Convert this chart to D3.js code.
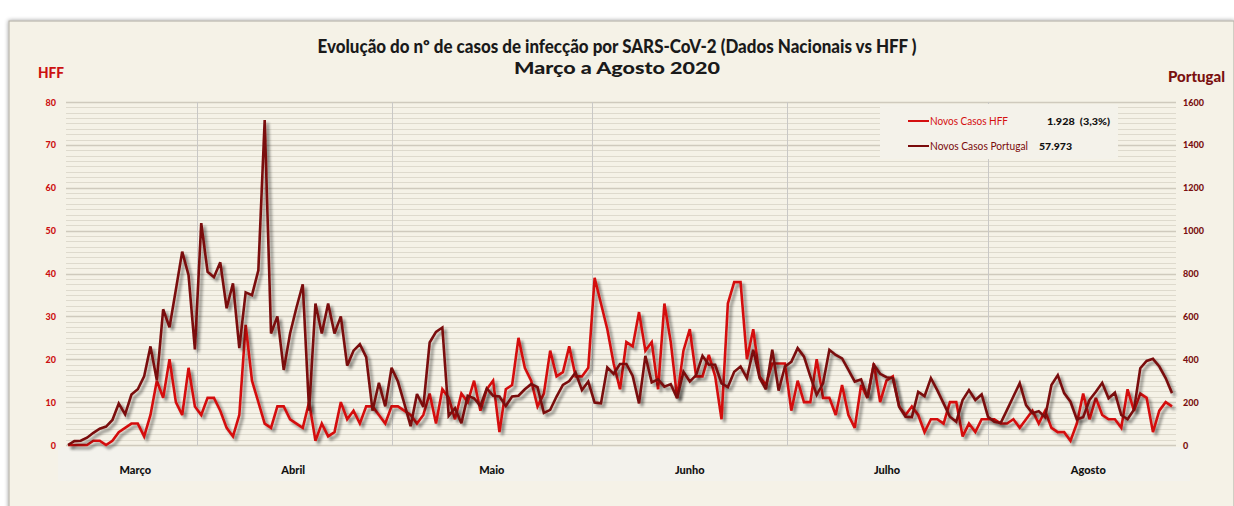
<!DOCTYPE html>
<html>
<head>
<meta charset="utf-8">
<script src="https://cdn.jsdelivr.net/npm/d3@7/dist/d3.min.js"></script>
<style>
  html, body { margin: 0; padding: 0; background: #ffffff; }
  svg { display: block; }
</style>
</head>
<body>
<svg id="chart" width="1234" height="506"></svg>
<script>
// ---------------- DATA ----------------
const titleLines = ["Evolução do nº de casos de infecção por SARS-CoV-2 (Dados Nacionais vs HFF )", "Março a Agosto 2020"];
const months = ["Março", "Abril", "Maio", "Junho", "Julho", "Agosto"];
// month label centres and month separators, in day-index units
const monthCentres = [10.6, 35.5, 66.8, 98, 129.1, 160.8];
const monthSeparators = [20.3, 51.1, 82.6, 113.3, 145];
const leftTicks = [0, 10, 20, 30, 40, 50, 60, 70, 80];
const rightTicks = [0, 200, 400, 600, 800, 1000, 1200, 1400, 1600];
const seriesNames = ["Novos Casos HFF", "Novos Casos Portugal"];
const seriesTotals = ["1.928  (3,3%)", "57.973"];

// daily new cases, HFF (left axis)
const hff = [0,0,0,0,1,1,0,1,3,4,5,5,2,7,15,11,20,10,7,18,9,7,11,11,8,4,2,7,28,15,
  10,5,4,9,9,6,5,4,10,1,5,2,3,10,6,8,5,9,9,7,5,9,9,8,7,5,7,12,5,13,
  11,6,12,10,15,8,13,15,3,13,14,25,18,15,9,12,22,16,17,23,16,16,18,39,33,27,19,13,24,23,
  31,22,24,13,33,24,11,22,27,16,16,21,16,6,33,38,38,20,27,16,14,19,19,19,8,15,10,10,20,11,
  11,7,14,7,4,14,11,19,10,15,16,9,7,9,7,3,6,6,5,10,10,2,5,3,6,6,6,5,5,6,
  4,6,8,5,8,4,3,3,1,5,12,6,11,7,6,6,4,13,8,12,11,3,8,10,9];

// daily new cases, Portugal (right axis)
const portugal = [0,18,20,34,57,76,86,117,194,143,235,260,320,460,302,633,549,724,902,792,
  446,1035,808,783,852,638,754,452,712,699,815,1516,520,600,350,520,640,750,160,660,
  520,660,520,600,370,440,470,410,160,290,180,360,296,194,88,238,178,478,528,548,
  136,172,102,230,218,182,264,230,226,182,226,230,260,284,270,150,164,226,280,298,
  338,256,296,198,194,362,332,378,378,322,194,416,292,306,272,284,218,342,296,326,
  416,374,374,288,270,342,366,312,444,312,260,444,254,366,388,452,412,320,234,288,
  444,420,404,350,296,306,220,374,332,316,312,178,132,130,248,228,312,256,194,132,
  108,210,256,210,236,132,108,102,164,226,288,186,148,158,130,280,326,242,202,120,
  130,210,248,290,218,244,140,120,164,358,392,402,366,312,242];

// ---------------- LAYOUT ----------------
const W = 1234, H = 506;
const plot = { left: 68, right: 1172, top: 102, bottom: 445 };
const gridRight = 1176;
const colHFF = "#d40f0f";
const colPT = "#7a0b0b";
const bg = "#f5f2e7";
const narrowFont = "Lato, 'Open Sans', sans-serif";

const svg = d3.select("#chart");

const defs = svg.append("defs");
const f = defs.append("filter").attr("id", "shadow").attr("x", "-5%").attr("y", "-5%").attr("width", "110%").attr("height", "115%");
f.append("feGaussianBlur").attr("in", "SourceAlpha").attr("stdDeviation", 1.6).attr("result", "b");
f.append("feOffset").attr("in", "b").attr("dx", 2.5).attr("dy", 3).attr("result", "o");
f.append("feComponentTransfer").attr("in", "o").attr("result", "s")
  .append("feFuncA").attr("type", "linear").attr("slope", 0.45);
const m = f.append("feMerge");
m.append("feMergeNode").attr("in", "s");
m.append("feMergeNode").attr("in", "SourceGraphic");

const fb = defs.append("filter").attr("id", "boxshadow").attr("x", "-2%").attr("y", "-2%").attr("width", "104%").attr("height", "104%");
fb.append("feGaussianBlur").attr("in", "SourceAlpha").attr("stdDeviation", 2).attr("result", "b");
fb.append("feComponentTransfer").attr("in", "b").attr("result", "s")
  .append("feFuncA").attr("type", "linear").attr("slope", 0.4);
const mb = fb.append("feMerge");
mb.append("feMergeNode").attr("in", "s");
mb.append("feMergeNode").attr("in", "SourceGraphic");

// outer frame
svg.append("rect").attr("x", 9).attr("y", 21).attr("width", W - 9).attr("height", H)
  .attr("fill", bg).attr("stroke", "#b9b6ae").attr("stroke-width", 1.2).attr("filter", "url(#boxshadow)");

// lighter band behind category labels
svg.append("rect").attr("x", 58).attr("y", 447).attr("width", 1132).attr("height", 34)
  .attr("fill", "#f3f2ec");

const n = portugal.length;
const x = d3.scaleLinear().domain([0, n - 1]).range([plot.left, plot.right]);
const yL = d3.scaleLinear().domain([0, 80]).range([plot.bottom, plot.top]);
const yR = d3.scaleLinear().domain([0, 1600]).range([plot.bottom, plot.top]);

// horizontal grid: minor every 1.25 (left units), major every 10
const g = svg.append("g");
const minorVals = d3.range(0, 80.001, 1.25);
g.selectAll("line.minor").data(minorVals).join("line")
  .attr("x1", plot.left - 2).attr("x2", gridRight)
  .attr("y1", d => Math.round(yL(d)) + 0.5).attr("y2", d => Math.round(yL(d)) + 0.5)
  .attr("stroke", d => (Math.abs(d % 10) < 1e-6) ? "#cfcabd" : "#dedacd")
  .attr("stroke-width", d => (Math.abs(d % 10) < 1e-6) ? 1.4 : 1.1);

// vertical month separators
g.selectAll("line.v").data(monthSeparators).join("line")
  .attr("x1", d => Math.round(x(d)) + 0.5).attr("x2", d => Math.round(x(d)) + 0.5)
  .attr("y1", plot.top).attr("y2", plot.bottom + 1)
  .attr("stroke", "#c9c8c6").attr("stroke-width", 1);

// legend box (covers grid)
const lg = svg.append("g");
lg.append("rect").attr("x", 880).attr("y", 104).attr("width", 238).attr("height", 55)
  .attr("fill", "#f4f2ea");
const legRows = [{ name: seriesNames[0], total: seriesTotals[0], col: colHFF, y: 121, tx: 1047, len: 78, tlen: 63 },
                 { name: seriesNames[1], total: seriesTotals[1], col: colPT, y: 146, tx: 1039, len: 98, tlen: 33 }];
legRows.forEach(r => {
  lg.append("line").attr("x1", 908).attr("x2", 929).attr("y1", r.y).attr("y2", r.y)
    .attr("stroke", r.col).attr("stroke-width", 2);
  lg.append("text").attr("x", 930).attr("y", r.y + 4).text(r.name)
    .attr("fill", r.col).attr("font-family", narrowFont)
    .attr("font-size", 11).attr("textLength", r.len).attr("lengthAdjust", "spacingAndGlyphs");
  lg.append("text").attr("x", r.tx).attr("y", r.y + 3.5).text(r.total).attr("xml:space", "preserve")
    .attr("fill", "#111").attr("font-family", narrowFont)
    .attr("font-weight", 900).attr("font-size", 10)
    .attr("textLength", r.tlen).attr("lengthAdjust", "spacingAndGlyphs");
});

// axes labels
const tickFont = "Lato, 'DejaVu Sans', sans-serif";
svg.append("g").selectAll("text").data(leftTicks).join("text")
  .attr("x", 56).attr("y", d => yL(d) + 3.5).attr("text-anchor", "end")
  .attr("fill", "#cc1111").attr("font-family", tickFont).attr("font-weight", 900).attr("font-size", 9)
  .text(d => d);
svg.append("g").selectAll("text").data(rightTicks).join("text")
  .attr("x", 1183).attr("y", d => yR(d) + 3.5).attr("text-anchor", "start")
  .attr("fill", "#7a1010").attr("font-family", tickFont).attr("font-weight", 900).attr("font-size", 9)
  .text(d => d);

svg.append("text").attr("x", 38).attr("y", 78).text("HFF")
  .attr("fill", "#cc1111").attr("font-family", narrowFont)
  .attr("font-weight", 900).attr("font-size", 15)
  .attr("textLength", 26).attr("lengthAdjust", "spacingAndGlyphs");
svg.append("text").attr("x", 1168).attr("y", 82).text("Portugal")
  .attr("fill", "#7a1010").attr("font-family", narrowFont)
  .attr("font-weight", 900).attr("font-size", 15)
  .attr("textLength", 57).attr("lengthAdjust", "spacingAndGlyphs");

// title
const titleLens = [599, 206];
const titleSizes = [18, 17];
svg.append("g").selectAll("text").data(titleLines).join("text")
  .attr("x", (d, i) => 617 - titleLens[i] / 2).attr("y", (d, i) => 53 + i * 21)
  .attr("fill", "#1a1a1a").attr("font-family", narrowFont)
  .attr("font-weight", 900).attr("font-size", (d, i) => titleSizes[i])
  .attr("textLength", (d, i) => titleLens[i]).attr("lengthAdjust", "spacingAndGlyphs")
  .text(d => d);

// month labels
svg.append("g").selectAll("text").data(months).join("text")
  .attr("x", (d, i) => x(monthCentres[i])).attr("y", 474).attr("text-anchor", "middle")
  .attr("fill", "#111").attr("font-family", "Lato, 'DejaVu Sans', sans-serif")
  .attr("font-weight", 900).attr("font-size", 11)
  .text(d => d);

// lines
const lineL = d3.line().x((d, i) => x(i)).y(d => yL(d));
const lineR = d3.line().x((d, i) => x(i)).y(d => yR(d));
svg.append("path").datum(hff).attr("d", lineL).attr("fill", "none")
  .attr("stroke", colHFF).attr("stroke-width", 2.6).attr("stroke-linejoin", "miter").attr("stroke-miterlimit", 3)
  .attr("filter", "url(#shadow)");
svg.append("path").datum(portugal).attr("d", lineR).attr("fill", "none")
  .attr("stroke", colPT).attr("stroke-width", 2.6).attr("stroke-linejoin", "miter").attr("stroke-miterlimit", 3)
  .attr("filter", "url(#shadow)");
</script>
</body>
</html>
